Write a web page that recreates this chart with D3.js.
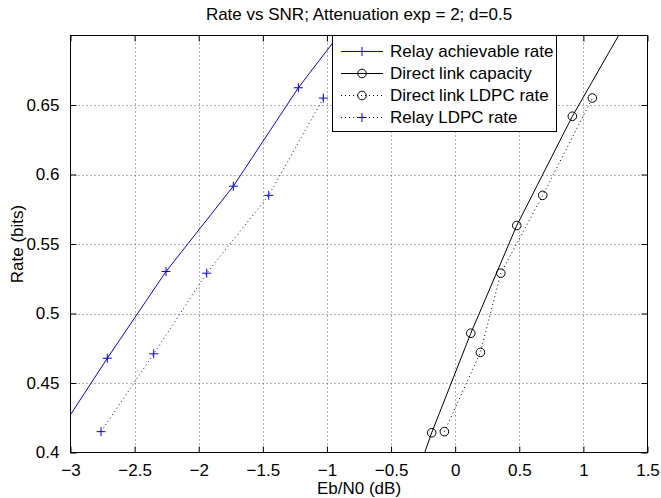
<!DOCTYPE html>
<html>
<head>
<meta charset="utf-8">
<script src="https://cdn.jsdelivr.net/npm/d3@7"></script>
<style>
  html, body { margin: 0; padding: 0; background: #fff; }
  svg { display: block; }
  text { font-family: "Liberation Sans", Arial, Helvetica, sans-serif; fill: #000; }
</style>
</head>
<body>
<svg id="chart" width="661" height="498"></svg>
<script>
// ---- data ----
const relayAchX   = [-3.15, -2.713, -2.255, -1.730, -1.223, -0.72];
const relayAchY   = [0.406, 0.4678, 0.5302, 0.5916, 0.6624, 0.723];
const directCapX  = [-0.45, -0.183, 0.122, 0.4805, 0.914, 1.43];
const directCapY  = [0.345, 0.4142, 0.4858, 0.5633, 0.6419, 0.725];
const directLdpcX = [-0.084, 0.197, 0.356, 0.683, 1.070];
const directLdpcY = [0.415, 0.472, 0.529, 0.585, 0.655];
const relayLdpcX  = [-2.762, -2.351, -1.938, -1.454, -1.028];
const relayLdpcY  = [0.415, 0.471, 0.529, 0.585, 0.655];
const xTicks = [-3, -2.5, -2, -1.5, -1, -0.5, 0, 0.5, 1, 1.5];
const yTicks = [0.4, 0.45, 0.5, 0.55, 0.6, 0.65];
const legendLabels = ["Relay achievable rate", "Direct link capacity", "Direct link LDPC rate", "Relay LDPC rate"];
const titleText = "Rate vs SNR; Attenuation exp = 2; d=0.5";
const xLabel = "Eb/N0 (dB)";
const yLabel = "Rate (bits)";

// ---- layout ----
const L = 70.5, R = 647.5, T = 35.5, B = 452.5;
const fs = 17;
const svg = d3.select("#chart");
const x = d3.scaleLinear().domain([-3, 1.5]).range([L, R]);
const y = d3.scaleLinear().domain([0.4, 0.7]).range([B, T]);
const fmt = d => d3.format("")(d).replace("-", "\u2212");

svg.append("defs").append("clipPath").attr("id", "clip")
  .append("rect").attr("x", L).attr("y", T).attr("width", R - L).attr("height", B - T);

// grid
const grid = svg.append("g");
xTicks.slice(1, -1).forEach(t => {
  grid.append("line").attr("x1", Math.round(x(t)) + 0.5).attr("x2", Math.round(x(t)) + 0.5)
    .attr("y1", T).attr("y2", B).attr("stroke", "#000").attr("stroke-width", 1)
    .attr("stroke-dasharray", "1,3").attr("opacity", 0.6);
});
yTicks.slice(1).forEach(t => {
  grid.append("line").attr("y1", Math.round(y(t)) + 0.5).attr("y2", Math.round(y(t)) + 0.5)
    .attr("x1", L).attr("x2", R).attr("stroke", "#000").attr("stroke-width", 1)
    .attr("stroke-dasharray", "1,3").attr("opacity", 0.6);
});

// axes with inward ticks on all four sides
const tl = 6;
const axB = d3.axisBottom(x).tickValues(xTicks).tickFormat(fmt).tickSizeInner(-tl).tickSizeOuter(0).tickPadding(tl + 5);
const axT = d3.axisTop(x).tickValues(xTicks).tickFormat("").tickSizeInner(-tl).tickSizeOuter(0);
const axL = d3.axisLeft(y).tickValues(yTicks).tickFormat(fmt).tickSizeInner(-tl).tickSizeOuter(0).tickPadding(tl + 5);
const axR = d3.axisRight(y).tickValues(yTicks).tickFormat("").tickSizeInner(-tl).tickSizeOuter(0);
function styleAxis(g) {
  g.select(".domain").remove();
  g.selectAll("line").attr("stroke", "#000");
  g.selectAll("text").attr("font-size", fs).attr("font-family", "Liberation Sans, Arial, sans-serif");
}
svg.append("g").attr("transform", `translate(0,${B})`).call(axB).call(styleAxis);
svg.append("g").attr("transform", `translate(0,${T})`).call(axT).call(styleAxis);
svg.append("g").attr("transform", `translate(${L},0)`).call(axL).call(styleAxis);
svg.append("g").attr("transform", `translate(${R},0)`).call(axR).call(styleAxis);

// data
const plot = svg.append("g").attr("clip-path", "url(#clip)");
const line = d3.line().x(d => x(d[0])).y(d => y(d[1]));
const zip = (a, b) => a.map((v, i) => [v, b[i]]);
const series = [
  { pts: zip(relayAchX, relayAchY), color: "#0000ff", dash: null, marker: "plus" },
  { pts: zip(directCapX, directCapY), color: "#000000", dash: null, marker: "circle" },
  { pts: zip(directLdpcX, directLdpcY), color: "#000000", dash: "1,3", marker: "circle" },
  { pts: zip(relayLdpcX, relayLdpcY), color: "#0000ff", dash: "1,3", marker: "plus" }
];
function drawMarker(g, type, cx, cy, color) {
  if (type === "plus") {
    g.append("path").attr("d", `M${cx - 4.5},${cy}H${cx + 4.5}M${cx},${cy - 4.5}V${cy + 4.5}`)
      .attr("stroke", color).attr("stroke-width", 1).attr("fill", "none");
  } else {
    g.append("circle").attr("cx", cx).attr("cy", cy).attr("r", 4.3)
      .attr("stroke", color).attr("stroke-width", 1).attr("fill", "none");
  }
}
series.forEach(s => {
  plot.append("path").attr("d", line(s.pts)).attr("fill", "none")
    .attr("stroke", s.color).attr("stroke-width", 1)
    .attr("stroke-dasharray", s.dash);
  s.pts.forEach(p => drawMarker(plot, s.marker, x(p[0]), y(p[1]), s.color));
});

// box
svg.append("rect").attr("x", L).attr("y", T).attr("width", R - L).attr("height", B - T)
  .attr("fill", "none").attr("stroke", "#000").attr("stroke-width", 1);

// legend
const lg = svg.append("g");
const lx = 332.5, ly = 35.5, lw = 224, lh = 96;
lg.append("rect").attr("x", lx).attr("y", ly).attr("width", lw).attr("height", lh)
  .attr("fill", "#fff").attr("stroke", "#000").attr("stroke-width", 1);
legendLabels.forEach((lab, i) => {
  const cy = 51.5 + i * 22;
  const s = series[i];
  lg.append("line").attr("x1", 341).attr("x2", 383).attr("y1", cy).attr("y2", cy)
    .attr("stroke", s.color).attr("stroke-width", 1).attr("stroke-dasharray", s.dash);
  drawMarker(lg, s.marker, 362, cy, s.color);
  lg.append("text").attr("x", 390).attr("y", cy).attr("dy", "0.35em")
    .attr("font-size", fs).text(lab);
});

// title & labels
svg.append("text").attr("x", (L + R) / 2).attr("y", 20).attr("text-anchor", "middle")
  .attr("font-size", fs).text(titleText);
svg.append("text").attr("x", (L + R) / 2).attr("y", 494).attr("text-anchor", "middle")
  .attr("font-size", fs).text(xLabel);
svg.append("text").attr("transform", `translate(23,${(T + B) / 2}) rotate(-90)`)
  .attr("text-anchor", "middle").attr("font-size", fs).text(yLabel);
</script>
</body>
</html>
